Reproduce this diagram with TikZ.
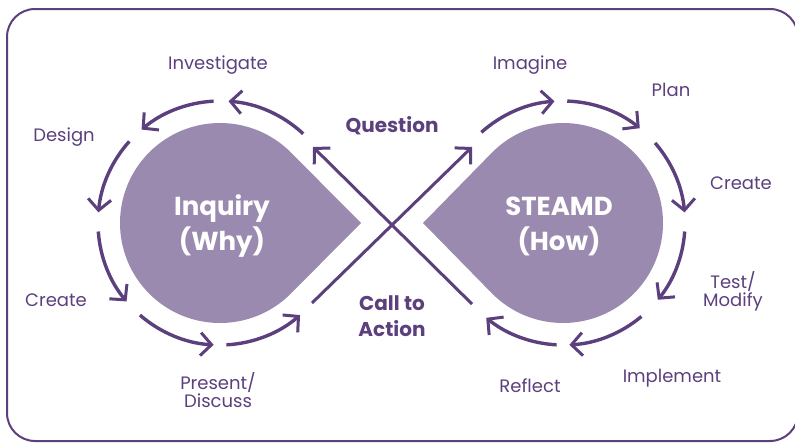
\documentclass[tikz,border=0pt]{standalone}
\usepackage{fontspec}
\setmainfont{Poppins}
\usetikzlibrary{arrows.meta,calc}
\definecolor{dk}{RGB}{92,63,125}
\definecolor{lt}{RGB}{155,138,176}
\begin{document}
\begin{tikzpicture}[x=1pt,y=-1pt,
  tip/.tip={Straight Barb[length=11pt,width=23pt,line width=3pt]},
  cyc/.style={draw=dk,line width=3.4pt,-tip},
  xarr/.style={draw=dk,line width=3pt,-tip},
  blob/.style={fill=lt,draw=none},
  lbl/.style={text=dk,font=\fontsize{18}{16}\selectfont,align=center,inner sep=0pt},
  bold/.style={text=dk,font=\fontsize{20}{26}\selectfont\bfseries,align=center,inner sep=0pt},
  big/.style={text=white,font=\fontsize{26}{35}\selectfont\bfseries,align=center,inner sep=0pt}]
\useasboundingbox (0,0) rectangle (795,442);
\clip (0,0) rectangle (795,442);
\draw[dk,line width=2pt,rounded corners=28pt] (7,9) rectangle (798,441);
% centres
\coordinate (L) at (220,223);
\coordinate (R) at (563,223);
% teardrops
\fill[blob] (361,223) -- ($(L)+(-45:100)$) arc[start angle=-45,end angle=-315,radius=100] -- cycle;
\fill[blob] (423,223) -- ($(R)+(-135:100)$) arc[start angle=-135,end angle=135,radius=100] -- cycle;
\node[big] (inq) at (222,226) {Inquiry\\(Why)};
\node[big] (stm) at (559,226) {STEAMD\\(How)};
% left cycle (counter-clockwise visually)
\foreach \a/\b in {47/86,93/130,138/175,184/220,229/267,273/311}
  \draw[cyc] ($(L)+(-\a:122)$) arc[start angle=-\a,end angle=-\b,radius=122];
% right cycle (clockwise visually)
\foreach \a/\b in {132/94,88/51,41/5,-4/-39,-50/-87,-93/-129}
  \draw[cyc] ($(R)+(-\a:122)$) arc[start angle=-\a,end angle=-\b,radius=122];
% crossing arrows
\coordinate (qa) at (472,304);
\coordinate (qb) at (313,147);
\coordinate (ca) at (312,303);
\coordinate (cb) at (472,147);
\draw[xarr] (qa) -- (qb);
\draw[xarr] (ca) -- (cb);
% labels
\node[bold] (q) at (392,126) {Question};
\node[bold] (cta) at (392,316) {Call to\\Action};
\node[lbl] (inv) at (218,65) {Investigate};
\node[lbl] (des) at (64,137) {Design};
\node[lbl] (crl) at (56,300) {Create};
\node[lbl] (pd) at (218,390) {Present/\\Discuss};
\node[lbl] (ima) at (530,65) {Imagine};
\node[lbl] (pla) at (671,90) {Plan};
\node[lbl] (crr) at (741,183) {Create};
\node[lbl] (tm) at (733,291) {Test/\\Modify};
\node[lbl] (imp) at (672,378) {Implement};
\node[lbl] (ref) at (530,386) {Reflect};
\end{tikzpicture}
\end{document}
